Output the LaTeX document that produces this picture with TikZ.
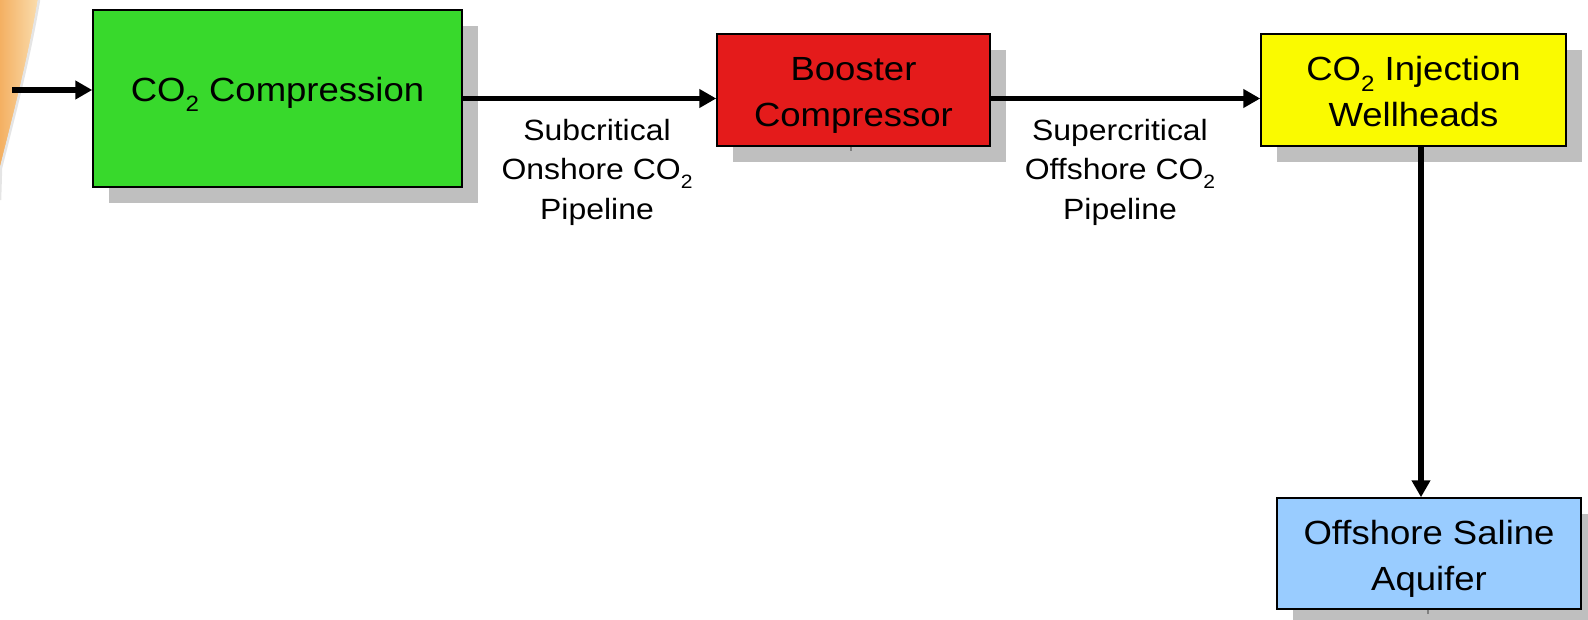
\documentclass[tikz,border=0pt]{standalone}
\usepackage{fontspec}
\setmainfont{Liberation Sans}
\newfontfamily\boxfont[FakeStretch=1.09]{Liberation Sans}
\usetikzlibrary{arrows.meta,shadows}
\definecolor{cgreen}{RGB}{56,217,44}
\definecolor{cred}{RGB}{228,27,27}
\definecolor{cyellow}{RGB}{250,250,0}
\definecolor{cblue}{RGB}{153,204,255}
\definecolor{cshadow}{RGB}{191,191,191}
\definecolor{orA}{RGB}{250,220,172}
\definecolor{orB}{RGB}{244,176,98}
\newcommand\subtwo{\raisebox{-0.3em}{\scalebox{0.66}{2}}}
\tikzset{
  procbox/.style={draw=black, line width=1.5pt, inner sep=0pt,
    general shadow={shadow xshift=16pt, shadow yshift=-16pt, fill=cshadow}},
  boxtext/.style={inner sep=0pt, align=center, font=\boxfont\fontsize{33.5}{46}\selectfont},
  pipelabel/.style={inner sep=0pt, align=center, font=\boxfont\fontsize{29.3}{39.5}\selectfont},
  arr/.style={line width=5.5pt, -{Triangle[length=17pt,width=18pt]}},
  tick/.style={draw=gray, line width=2pt}
}
\begin{document}
\begin{tikzpicture}[x=1pt,y=-1pt]
\useasboundingbox (0,0) rectangle (1588,620);
% background fragment at left edge
\shade[left color=orB, right color=orA] (0,0) -- (38,0) .. controls (28,60) and (12,120) .. (0,168) -- cycle;
\draw[white!80!gray, line width=2.5pt] (39,0) .. controls (29,60) and (13,120) .. (1,168) -- (0,200);

% boxes
\node[procbox, fill=cgreen, minimum width=369pt, minimum height=177pt] (green) at (277.5,98.5) {};
\node[procbox, fill=cred, minimum width=273pt, minimum height=112pt] (red) at (853.5,90) {};
\node[procbox, fill=cyellow, minimum width=305pt, minimum height=112pt] (yellow) at (1413.5,90) {};
\node[procbox, fill=cblue, minimum width=304pt, minimum height=111pt] (blue) at (1429,553.5) {};

% box texts
\node[boxtext] (greentext) at (277.5,94) {CO\subtwo{} Compression};
\node[boxtext] (redtext) at (853.5,95) {Booster\\Compressor};
\node[boxtext] (yellowtext) at (1413.5,92) {CO\subtwo{} Injection\\Wellheads};
\node[boxtext] (bluetext) at (1429,558.5) {Offshore Saline\\Aquifer};

% small stubs
\draw[tick] (851,147) -- (851,151);
\draw[tick] (1428,610) -- (1428,614);

% labels
\node[pipelabel] (lab1) at (597,172) {Subcritical\\Onshore CO\subtwo\\Pipeline};
\node[pipelabel] (lab2) at (1120,172) {Supercritical\\Offshore CO\subtwo\\Pipeline};

% connectors
\coordinate (in) at (12,90);
\draw[arr] (in) -- (in -| green.west);
\draw[arr] (green.east) -- (green.east -| red.west);
\draw[arr] (red.east |- green.east) -- (green.east -| yellow.west);
\coordinate (v) at (1421,0);
\draw[arr] (v |- yellow.south) -- (v |- blue.north);
\end{tikzpicture}
\end{document}
